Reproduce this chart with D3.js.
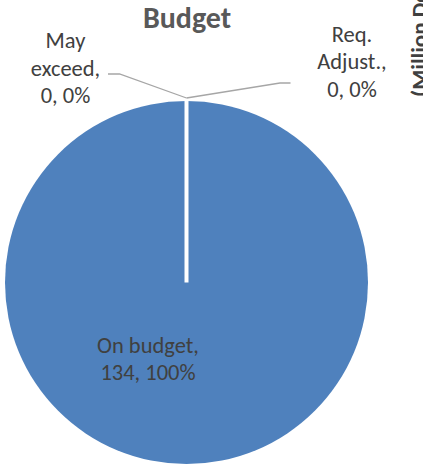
<!DOCTYPE html>
<html>
<head>
<meta charset="utf-8">
<script src="https://cdn.jsdelivr.net/npm/d3@7"></script>
<style>
    body { margin: 0; background: #fff; }
    svg { display: block; font-family: Carlito, Calibri, Lato, sans-serif; }
</style>
</head>
<body>
<div id="chart"></div>
<script>
// ── Data ─────────────────────────────
const categories = ['On budget', 'May exceed', 'Req. Adjust.'];
const values = [134, 0, 0];
const chartTitle = 'Budget';
const sideTitle = '(Million Dollars)';

const W = 423, H = 472;
const cx = 186.5, cy = 282.5, R = 181.5;

const svg = d3.select('#chart').append('svg')
    .attr('width', W)
    .attr('height', H);

const total = d3.sum(values);
const pie = d3.pie().sort(null).value(d => d)
    .startAngle(0).endAngle(2 * Math.PI);
const arcs = pie(values);
const arc = d3.arc().innerRadius(0).outerRadius(R);

const g = svg.append('g').attr('transform', `translate(${cx},${cy})`);

// slices
g.selectAll('path.slice')
    .data(arcs.filter(d => d.value > 0))
    .enter()
    .append('path')
    .attr('class', 'slice')
    .attr('d', arc)
    .attr('fill', '#4f81bd');

// white slice border along start angle
arcs.filter(d => d.value > 0).forEach(d => {
    const a = d.startAngle;
    g.append('line')
        .attr('x1', 0).attr('y1', 0)
        .attr('x2', R * Math.sin(a)).attr('y2', -R * Math.cos(a))
        .attr('stroke', '#fff')
        .attr('stroke-width', 4);
});

const pct = v => Math.round(v / total * 100) + '%';

// label placements (layout only)
const labelPos = [
    { x: -38.5, y: 70, leader: null },
    { x: -121, y: -234.5, leader: [[-67, -208.5], [-78.5, -208.5]] },
    { x: 165.5, y: -241, leader: [[93.5, -199.5], [104, -199.5]] }
];
const lineH = 27.7;
const edgePt = [0, -R - 3];

arcs.forEach((d, i) => {
    const p = labelPos[i];
    if (p.leader) {
        g.append('path')
            .attr('d', d3.line()([edgePt, ...p.leader]))
            .attr('fill', 'none')
            .attr('stroke', '#a6a6a6')
            .attr('stroke-width', 1.3);
    }
    const name = categories[i];
    let lines;
    if (i === 0) lines = [name + ',', d.value + ', ' + pct(d.value)];
    else {
        const parts = name.split(' ');
        lines = [parts[0], parts.slice(1).join(' ') + ',', d.value + ', ' + pct(d.value)];
    }
    const t = g.append('text')
        .attr('text-anchor', 'middle')
        .attr('fill', '#404040')
        .style('font-size', '22.5px');
    lines.forEach((s, k) => {
        t.append('tspan')
            .attr('x', p.x)
            .attr('y', p.y + k * lineH)
            .text(s);
    });
});

// title
svg.append('text')
    .attr('x', 187)
    .attr('y', 28)
    .attr('text-anchor', 'middle')
    .attr('fill', '#595959')
    .style('font-size', '30px')
    .style('font-weight', 'bold')
    .text(chartTitle);

// cut-off axis title on the right
svg.append('text')
    .attr('transform', 'translate(427,97) rotate(-90)')
    .attr('fill', '#404040')
    .style('font-size', '23px')
    .style('font-weight', 'bold')
    .text(sideTitle);
</script>
</body>
</html>
